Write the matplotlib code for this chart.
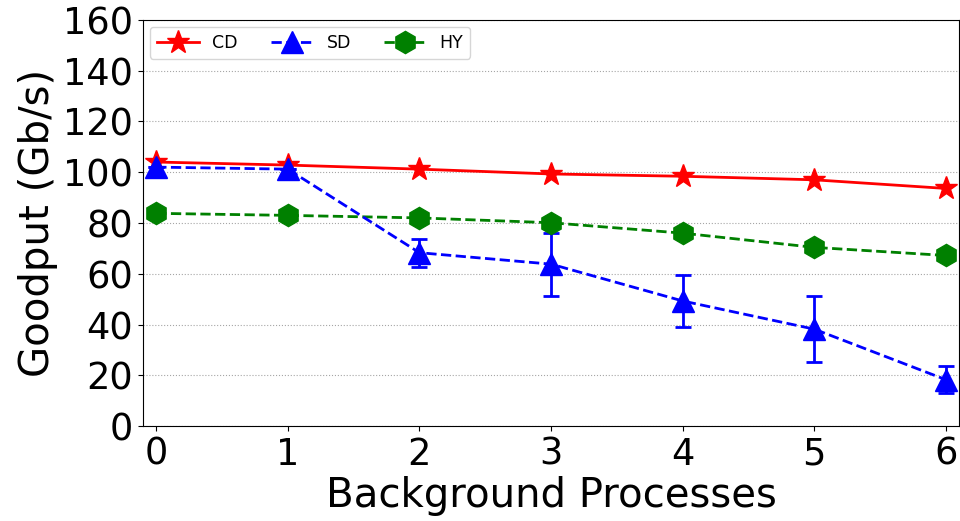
import matplotlib
matplotlib.use('Agg')
import matplotlib.pyplot as plt

processes = [0, 1, 2, 3, 4, 5, 6]
cd = [104.0, 102.8, 101.2, 99.3, 98.4, 97.0, 93.6]
sd = [102.0, 101.2, 68.3, 63.8, 49.3, 38.2, 18.3]
sd_err = [0.0, 0.0, 5.5, 12.4, 10.1, 12.9, 5.4]
hy = [83.8, 83.0, 82.0, 80.1, 76.0, 70.4, 67.2]

fig = plt.figure(figsize=(9.6, 5.21), dpi=100)
ax = fig.add_axes([0.149, 0.182, 0.85, 0.78])

l_cd, = ax.plot(processes, cd, '-', color='red', marker='*', markersize=17, linewidth=2, label='CD')
l_sd = ax.errorbar(processes, sd, yerr=sd_err, fmt='--', color='blue', marker='^', markersize=16,
                   linewidth=2, elinewidth=2, capsize=6, capthick=2, label='SD')
l_hy, = ax.plot(processes, hy, '--', color='green', marker='h', markersize=16, linewidth=2, label='HY')

ax.set_xlim(-0.1, 6.1)
ax.set_ylim(0, 160)
ax.set_xticks(processes)
ax.set_yticks(range(0, 161, 20))
ax.tick_params(labelsize=26.5)
ax.set_xlabel('Background Processes', fontsize=29, labelpad=2)
ax.set_ylabel('Goodput (Gb/s)', fontsize=29)
ax.yaxis.grid(True, linestyle=':', color='gray', alpha=0.7)
# legend shows plain line + marker for SD (no error bar glyph)
ax.legend(handles=[l_cd, l_sd[0], l_hy], labels=['CD', 'SD', 'HY'], loc='upper left', ncol=3,
          fontsize=12.5, handlelength=2.4, borderaxespad=0.4, columnspacing=1.9)

plt.savefig('out.png')
plt.close()
